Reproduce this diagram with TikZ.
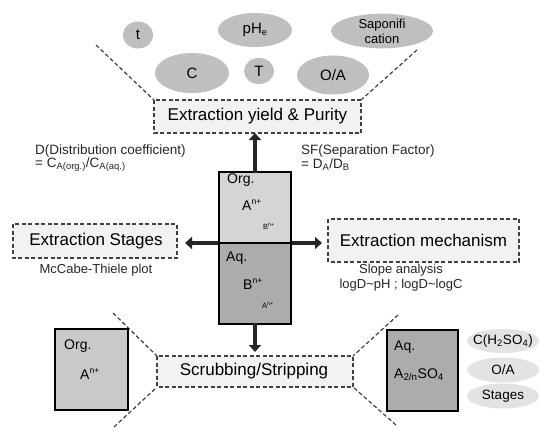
\documentclass[tikz,border=0pt]{standalone}
\usepackage{fontspec}
\setmainfont{Liberation Sans}
\usetikzlibrary{arrows.meta,shapes.geometric}
\definecolor{bubble}{HTML}{BFBFBF}
\definecolor{bubblelt}{HTML}{E3E3E3}
\definecolor{panel}{HTML}{F2F2F2}
\definecolor{edge}{HTML}{404040}
\definecolor{orgfill}{HTML}{D6D4D4}
\definecolor{aqfill}{HTML}{AEABAB}
\definecolor{orgside}{HTML}{C9C9C9}
\definecolor{arrowc}{HTML}{262626}
\tikzset{
  topic/.style={draw=edge, fill=panel, dash pattern=on 4pt off 2.5pt, line width=1.2pt},
  topictext/.style={font=\fontsize{17}{19}\selectfont, inner sep=0pt},
  guide/.style={draw=edge, dash pattern=on 4pt off 2.5pt, line width=1.2pt},
  factor/.style={ellipse, fill=bubble, inner sep=0pt, font=\fontsize{15}{16}\selectfont, align=center},
  factorlt/.style={inner sep=0pt, font=\fontsize{13.5}{15}\selectfont},
  phase/.style={draw=black, line width=1.3pt},
  flow/.style={draw=arrowc, line width=4pt, -{Triangle[length=7pt,width=12pt]}},
  note/.style={font=\fontsize{13.5}{15}\selectfont, inner sep=0pt, text=black!85},
  label/.style={font=\fontsize{14}{16}\selectfont, inner sep=0pt},
  tiny/.style={font=\fontsize{7.5}{8}\selectfont, inner sep=0pt},
}
\newcommand{\ionsup}[1]{\textsuperscript{\fontsize{8.5}{9}\selectfont #1}}
\begin{document}
\begin{tikzpicture}[x=1pt,y=-1pt]
\useasboundingbox (0,0) rectangle (542,431);

% factor bubbles above the yield box
\node[factor, minimum width=30pt, minimum height=27pt] (ft) at (138,35) {t};
\node[factor, minimum width=74pt, minimum height=34pt] (fph) at (255,30) {pH\textsubscript{\fontsize{9}{9}\selectfont e}};
\node[factor, minimum width=102pt, minimum height=32pt, font=\fontsize{13}{15}\selectfont] (fsap) at (382,31) {Saponifi\\cation};
\node[factor, minimum width=74pt, minimum height=40pt] (fc) at (192,73) {C};
\node[factor, minimum width=30pt, minimum height=26pt] (ftt) at (259,71) {T};
\node[factor, minimum width=72pt, minimum height=39pt] (foa) at (333,75) {O/A};

% topic boxes
\path[topic] (154,100) rectangle (361,133);
\node[topictext] (yield) at (257.5,116.5) {Extraction yield \& Purity};
\coordinate (yieldNW) at (154,100);
\coordinate (yieldNE) at (361,100);
\coordinate (yieldS) at (255,133);

\path[topic] (13,224) rectangle (177,258);
\node[topictext] (stages) at (96,241) {Extraction Stages};
\coordinate (stagesE) at (185,243);

\path[topic] (328,219) rectangle (519,262);
\node[topictext] (mech) at (423.5,240.5) {Extraction mechanism};
\coordinate (mechW) at (322,243);

\path[topic] (157,356) rectangle (353,387);
\node[topictext] (scrub) at (254,371.5) {Scrubbing/Stripping};
\coordinate (scrubN) at (255,352);
\coordinate (scrubNW) at (157,356);
\coordinate (scrubSW) at (157,387);
\coordinate (scrubNE) at (353,356);
\coordinate (scrubSE) at (353,387);

% guide lines
\coordinate (gl1) at (96,45);
\coordinate (gr1) at (417,50);
\coordinate (gl2) at (113,313);
\coordinate (gl3) at (114,427);
\coordinate (gr2) at (398,315);
\coordinate (gr3) at (396,425);
\draw[guide] (gl1) -- (yieldNW);
\draw[guide] (gr1) -- (yieldNE);
\draw[guide] (gl2) -- (scrubNW);
\draw[guide] (gl3) -- (scrubSW);
\draw[guide] (gr2) -- (scrubNE);
\draw[guide] (gr3) -- (scrubSE);

% two-phase column
\path[phase, fill=orgfill] (219,172) rectangle (291,243);
\path[phase, fill=aqfill] (219,243) rectangle (291,324);
\coordinate (colN) at (255,172);
\coordinate (colW) at (219,243);
\coordinate (colE) at (291,243);
\coordinate (colS) at (255,324);
\node[label, anchor=west] (orgtxt) at (227,180) {Org.};
\node[label, anchor=west] (orgA) at (242,205) {A\ionsup{n+}};
\node[tiny, anchor=west] (orgB) at (263,226) {B\textsuperscript{n+}};
\node[label, anchor=west] (aqtxt) at (226,258) {Aq.};
\node[label, anchor=west] (aqB) at (243,284) {B\ionsup{n+}};
\node[tiny, anchor=west] (aqA) at (262,305) {A\textsuperscript{n+}};

% flow arrows
\draw[flow] ([yshift=-1pt]colN) -- (yieldS);
\draw[flow] ([xshift=-1pt]colW) -- (stagesE);
\draw[flow] ([xshift=1pt]colE) -- (mechW);
\draw[flow] ([yshift=1pt]colS) -- (scrubN);

% notes
\node[note, anchor=west] (dnote) at (35,151) {D(Distribution coefficient)};
\node[note, anchor=west] (dform) at (35,165) {= C\textsubscript{A(org.)}/C\textsubscript{A(aq.)}};
\node[note, anchor=west] (sfnote) at (301,151) {SF(Separation Factor)};
\node[note, anchor=west] (sfform) at (301,165) {= D\textsubscript{A}/D\textsubscript{B}};
\node[note, font=\fontsize{13}{15}\selectfont] (mccabe) at (96,270) {McCabe-Thiele plot};
\node[note, font=\fontsize{13}{15}\selectfont] (slope) at (401,270) {Slope analysis};
\node[note, font=\fontsize{13}{15}\selectfont] (logd) at (401,285) {logD\textasciitilde pH ; logD\textasciitilde logC};

% stripping side boxes
\path[phase, fill=orgside] (55,329) rectangle (128,410);
\node[label, anchor=west] (sorg) at (64,346) {Org.};
\node[label, anchor=west] (sA) at (80,374) {A\ionsup{n+}};
\path[phase, fill=aqfill] (387,330) rectangle (458,411);
\node[label, anchor=west] (saq) at (394,347) {Aq.};
\node[label, anchor=west] (sso) at (394,375) {A\textsubscript{2/n}SO\textsubscript{4}};

% stripping factors: flat ellipses with labels on top
\fill[bubblelt] (503,341) ellipse [x radius=36, y radius=12];
\fill[bubblelt] (503,370) ellipse [x radius=36, y radius=12.5];
\fill[bubblelt] (503,396) ellipse [x radius=36, y radius=12.5];
\node[factorlt] (eh) at (503,341) {C(H\textsubscript{2}SO\textsubscript{4})};
\node[factorlt] (eoa) at (503,370) {O/A};
\node[factorlt] (est) at (503,396) {Stages};
\end{tikzpicture}
\end{document}
